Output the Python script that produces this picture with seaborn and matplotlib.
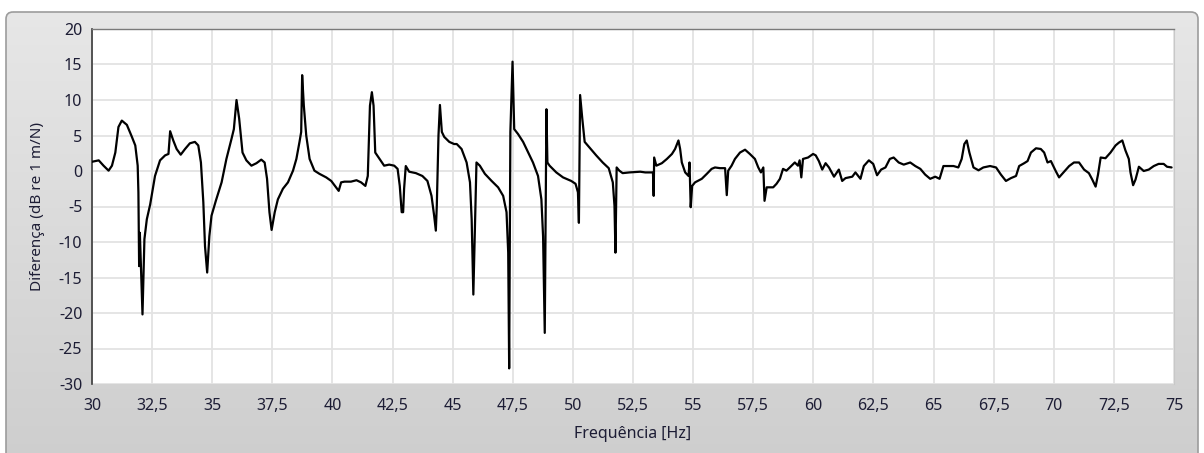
import numpy as np
import pandas as pd
import seaborn as sns
import matplotlib.pyplot as plt
from matplotlib.patches import FancyBboxPatch
from matplotlib.ticker import FuncFormatter, MultipleLocator

# frequency [Hz] and difference [dB re 1 m/N]
freq = [
    30.0, 30.28, 30.48, 30.69, 30.83, 30.97, 31.1, 31.24, 31.45, 31.66, 31.8, 31.9, 31.93, 31.96,
    31.99, 32.1, 32.18, 32.28, 32.42, 32.62, 32.83, 33.04, 33.18, 33.25, 33.38, 33.52, 33.69,
    33.87, 34.07, 34.28, 34.42, 34.53, 34.63, 34.7, 34.79, 34.88, 34.97, 35.15, 35.39, 35.59,
    35.8, 35.9, 36.01, 36.12, 36.26, 36.42, 36.63, 36.84, 37.04, 37.18, 37.28, 37.38, 37.47,
    37.6, 37.73, 37.94, 38.15, 38.36, 38.5, 38.63, 38.7, 38.74, 38.81, 38.91, 39.05, 39.25,
    39.46, 39.74, 39.95, 40.15, 40.26, 40.36, 40.5, 40.77, 41.0, 41.19, 41.37, 41.47, 41.56,
    41.64, 41.71, 41.78, 41.92, 42.15, 42.36, 42.57, 42.71, 42.8, 42.88, 42.94, 42.98, 43.05,
    43.19, 43.47, 43.74, 43.95, 44.12, 44.23, 44.3, 44.34, 44.41, 44.47, 44.55, 44.65, 44.86,
    45.06, 45.17, 45.37, 45.58, 45.72, 45.79, 45.86, 45.93, 45.99, 46.13, 46.34, 46.62, 46.89,
    47.1, 47.24, 47.31, 47.35, 47.4, 47.49, 47.56, 47.72, 47.93, 48.14, 48.34, 48.55, 48.69,
    48.76, 48.83, 48.9, 48.94, 49.03, 49.31, 49.59, 49.93, 50.11, 50.21, 50.25, 50.3, 50.39,
    50.49, 50.69, 50.97, 51.24, 51.49, 51.66, 51.73, 51.77, 51.82, 51.93, 52.07, 52.35,
    52.8, 53.01, 53.33, 53.36, 53.38, 53.47, 53.7, 53.91, 54.12, 54.25, 54.39, 54.46, 54.53,
    54.67, 54.81, 54.85, 54.9, 54.96, 55.08, 55.36, 55.57, 55.77, 55.91, 56.12, 56.33, 56.4,
    56.46, 56.6, 56.74, 56.95, 57.16, 57.36, 57.57, 57.71, 57.82, 57.92, 57.97, 58.06, 58.33,
    58.47, 58.61, 58.74, 58.88, 59.02, 59.23, 59.36, 59.43, 59.5, 59.57, 59.78, 59.99,
    60.1, 60.23, 60.37, 60.51, 60.65, 60.86, 61.06, 61.2, 61.34, 61.62, 61.75, 61.96, 62.1,
    62.31, 62.49, 62.65, 62.82, 63.0, 63.18, 63.34, 63.55, 63.76, 64.03, 64.24, 64.45, 64.65,
    64.86, 65.07, 65.25, 65.41, 65.62, 65.83, 66.03, 66.17, 66.28, 66.38, 66.49, 66.66, 66.87,
    67.07, 67.35, 67.6, 67.8, 68.01, 68.22, 68.43, 68.56, 68.77, 68.91, 69.05, 69.26, 69.46,
    69.6, 69.74, 69.88, 70.08, 70.22, 70.43, 70.64, 70.84, 71.05, 71.26, 71.46, 71.6, 71.74,
    71.84, 71.95, 72.15, 72.36, 72.57, 72.71, 72.85, 72.98, 73.12, 73.19, 73.3, 73.4, 73.54,
    73.74, 73.95, 74.16, 74.36, 74.57, 74.71, 74.9,
]
diff_db = [
    1.3, 1.5, 0.75, 0.05, 0.75, 2.6, 6.2, 7.1, 6.5, 4.8, 3.6, 0.75, -3.0, -13.4,
    -8.7, -20.2, -9.6, -6.8, -4.7, -0.7, 1.5, 2.2, 2.4, 5.6, 4.3, 3.1, 2.3,
    3.1, 3.9, 4.1, 3.6, 1.2, -4.4, -10.6, -14.3, -9.2, -6.3, -4.2, -1.6, 1.7,
    4.5, 5.9, 10.0, 7.4, 2.6, 1.5, 0.75, 1.1, 1.6, 1.2, -1.1, -5.8, -8.3,
    -5.8, -4.0, -2.5, -1.6, 0.05, 1.7, 4.1, 5.5, 13.5, 9.2, 5.0, 1.7, 0.05,
    -0.4, -0.9, -1.4, -2.3, -2.8, -1.6, -1.5, -1.5, -1.3, -1.6, -2.1, -0.7, 9.2,
    11.1, 9.2, 2.6, 1.9, 0.75, 0.9, 0.75, 0.3, -2.1, -5.8, -5.8, -2.5, 0.7,
    -0.1, -0.3, -0.7, -1.4, -3.5, -6.3, -8.4, -4.9, 5.0, 9.3, 5.5, 4.8, 4.1,
    3.8, 3.8, 3.1, 1.2, -1.6, -6.8, -17.4, -7.7, 1.2, 0.75, -0.4, -1.4, -2.3,
    -3.5, -5.8, -11.5, -27.8, 5.5, 15.4, 5.9, 5.2, 4.1, 2.6, 1.2, -0.7, -4.0,
    -9.2, -22.8, 8.7, 1.2, 0.75, -0.2, -0.9, -1.4, -1.8, -3.0, -7.3, 10.7, 7.4,
    4.1, 3.3, 2.2, 1.2, 0.4, -1.6, -4.9, -11.5, 0.5, 0.05, -0.3, -0.2,
    -0.1, -0.2, -0.2, -3.5, 1.9, 0.75, 1.1, 1.7, 2.4, 3.1, 4.3, 3.1, 1.2,
    -0.2, -0.7, 1.2, -5.1, -2.1, -1.6, -1.1, -0.4, 0.3, 0.5, 0.4, 0.4, -3.4,
    0.05, 0.75, 1.7, 2.6, 3.0, 2.4, 1.7, 0.5, -0.2, 0.5, -4.2, -2.3, -2.3,
    -1.8, -1.1, 0.3, 0.05, 0.5, 1.2, 0.75, 1.5, -0.9, 1.7, 1.9, 2.4,
    2.2, 1.4, 0.2, 1.1, 0.5, -0.8, 0.2, -1.4, -1.0, -0.8, -0.2, -1.1, 0.7,
    1.5, 1.0, -0.6, 0.2, 0.5, 1.7, 1.9, 1.2, 0.9, 1.2, 0.7, 0.3, -0.5,
    -1.1, -0.8, -1.1, 0.7, 0.7, 0.7, 0.5, 1.7, 3.8, 4.3, 2.6, 0.5, 0.1,
    0.5, 0.7, 0.5, -0.5, -1.4, -1.0, -0.7, 0.7, 1.1, 1.4, 2.6, 3.2, 3.1,
    2.6, 1.2, 1.4, 0.0, -0.9, -0.1, 0.7, 1.2, 1.2, 0.2, -0.3, -1.2, -2.2,
    -0.5, 1.9, 1.8, 2.6, 3.6, 4.0, 4.3, 2.9, 1.7, -0.2, -2.0, -1.2, 0.6,
    0.0, 0.2, 0.7, 1.0, 1.0, 0.6, 0.5,
]

df = pd.DataFrame({'freq': freq, 'diff': diff_db})

sns.set_style('white')
plt.rcParams['font.family'] = ['Noto Sans', 'DejaVu Sans']

W, H = 1204, 453
fig = plt.figure(figsize=(W / 100, H / 100), dpi=100)
fig.patch.set_facecolor('white')

# gray panel behind the graph
bg = fig.add_axes([0, 0, 1, 1])
bg.set_xlim(0, W)
bg.set_ylim(H, 0)
bg.axis('off')
panel = FancyBboxPatch((6, 12), 1192, 470, boxstyle='round,pad=0,rounding_size=7',
                       facecolor='none', edgecolor='#9c9c9c', linewidth=1.2)
bg.add_patch(panel)
grad = np.linspace(0, 1, 256)[:, None]
top_c = np.array([0.905, 0.905, 0.905])
bot_c = np.array([0.81, 0.81, 0.81])
img = (top_c * (1 - grad) + bot_c * grad)[:, None, :].repeat(2, axis=1)
im = bg.imshow(img, extent=(6, 1198, H, 12), aspect='auto', zorder=0)
im.set_clip_path(panel)

left, right, top, bottom = 92, 1174, 29, 384
ax = fig.add_axes([left / W, 1 - bottom / H, (right - left) / W, (bottom - top) / H])
ax.set_facecolor('white')

sns.lineplot(data=df, x='freq', y='diff', ax=ax, color='black', linewidth=1.6,
             estimator=None, sort=False, zorder=3)

ax.set_xlim(30, 75)
ax.set_ylim(-30, 20)
ax.xaxis.set_major_locator(MultipleLocator(2.5))
ax.yaxis.set_major_locator(MultipleLocator(5))
comma = FuncFormatter(lambda v, p: f'{v:g}'.replace('.', ','))
ax.xaxis.set_major_formatter(comma)
ax.yaxis.set_major_formatter(comma)

ax.grid(True, color='#e3e3e3', linewidth=1.3)
ax.set_axisbelow(True)

ax.spines['left'].set_color('#3a3a3a')
ax.spines['left'].set_linewidth(1.2)
ax.spines['top'].set_color('#7a7a7a')
ax.spines['top'].set_linewidth(1.0)
ax.spines['right'].set_color('#c8c8c8')
ax.spines['bottom'].set_visible(False)

ax.tick_params(axis='both', direction='out', length=5, width=1.2, color='#303030',
               labelsize=11.5, labelcolor='#1d1d35', pad=2)
ax.tick_params(axis='x', pad=5)

ax.set_xlabel('Frequência [Hz]', fontsize=11.5, color='#1d1d35', labelpad=9)
ax.set_ylabel('Diferença (dB re 1 m/N)', fontsize=11, color='#1d1d35', labelpad=10)

fig.savefig('out.png', dpi=100)
